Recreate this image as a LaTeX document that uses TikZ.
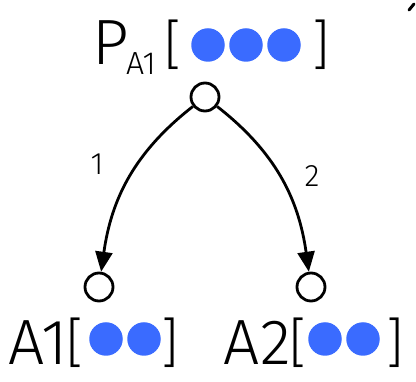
\documentclass[tikz,border=0pt]{standalone}
\usepackage{fontspec}
\setmainfont{Fira Sans Light}
\usetikzlibrary{arrows.meta}
\definecolor{dotblue}{RGB}{58,107,255}
\begin{document}
\begin{tikzpicture}[x=1pt,y=-1pt,
  vtx/.style={circle,draw,line width=2.8pt,minimum size=28pt,inner sep=0pt},
  dot/.style={circle,fill=dotblue,minimum size=33.5pt,inner sep=0pt},
  big/.style={inner sep=0pt,font=\fontsize{64}{64}\selectfont},
  brk/.style={inner sep=0pt,font=\fontsize{54}{54}\selectfont},
  sub/.style={inner sep=0pt,font=\fontsize{32}{32}\selectfont},
  lbl/.style={inner sep=0pt,font=\fontsize{31}{31}\selectfont},
  arr/.style={line width=2.8pt,-{Triangle[length=20pt,width=17pt]}}]
\useasboundingbox (0,0) rectangle (416,382);
% vertices
\node[vtx] (p) at (205,97) {};
\node[vtx] (c1) at (99,287) {};
\node[vtx] (c2) at (311,287) {};
% edges
\draw[arr] (p) to[out=218,in=82] (c1);
\draw[arr] (p) to[out=-38,in=98] (c2);
\node[lbl] (l1) at (97,164) {1};
\node[lbl] (l2) at (312,176) {2};
% top label
\node[big,anchor=base west] (pt) at (92,65) {P};
\node[sub,anchor=base west] (ps) at (126,75) {A1};
\node[brk,anchor=center] (pb) at (173,45) {[};
\node[dot] (d1) at (208,45) {};
\node[dot] (d2) at (246,45) {};
\node[dot] (d3) at (284,45) {};
\node[brk,anchor=center] (pe) at (321,45) {]};
% bottom left
\node[big,anchor=base west] (a1) at (8,365) {A1};
\node[brk,anchor=center] (a1b) at (75,343) {[};
\node[dot] (e1) at (106,339) {};
\node[dot] (e2) at (144,339) {};
\node[brk,anchor=center] (a1e) at (170,343) {]};
% bottom right
\node[big,anchor=base west] (a2) at (223,365) {A2};
\node[brk,anchor=center] (a2b) at (298,343) {[};
\node[dot] (f1) at (325,339) {};
\node[dot] (f2) at (363,339) {};
\node[brk,anchor=center] (a2e) at (395,343) {]};
% stray mark
\draw[line width=3pt,line cap=round] (409,10) -- (414,4);
\end{tikzpicture}
\end{document}
